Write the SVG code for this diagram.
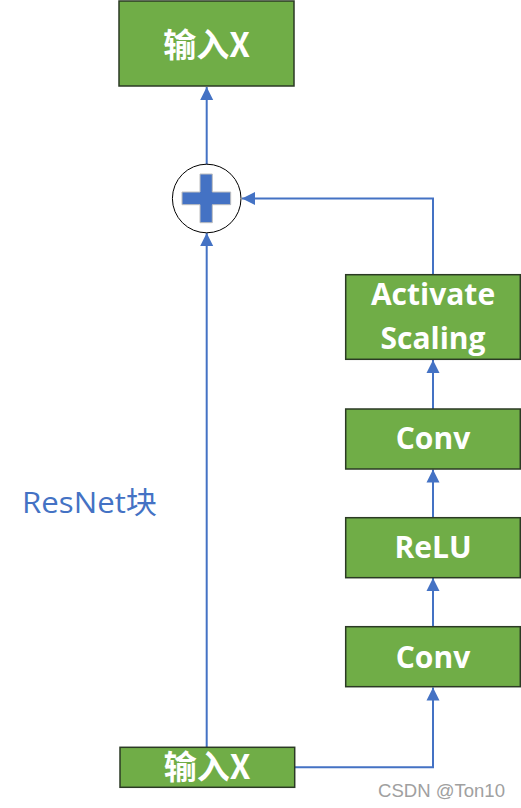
<svg xmlns="http://www.w3.org/2000/svg" width="521" height="808" viewBox="0 0 521 808">
<style>
.box{fill:#70AD47;stroke:#2B3A24;stroke-width:1.5}
.lbl{font-family:"Open Sans","Noto Sans CJK SC",sans-serif;font-weight:bold;font-size:30px;fill:#FFFFFF;text-anchor:middle}
.cjk{font-family:"Noto Sans CJK SC","Open Sans",sans-serif;font-weight:bold;font-size:33px;fill:#FFFFFF;text-anchor:middle}
.con{fill:none;stroke:#4472C4;stroke-width:2}
</style>
<defs>
<marker id="arr" markerUnits="userSpaceOnUse" markerWidth="14" markerHeight="14" viewBox="0 0 14 14" refX="13" refY="7" orient="auto">
<path d="M0,0.5 L13,7 L0,13.5 Z" fill="#4472C4"/>
</marker>
</defs>
<rect width="521" height="808" fill="#FFFFFF"/>
<g id="connectors">
<path class="con" d="M206.7,165 L206.7,87" marker-end="url(#arr)"/>
<path class="con" d="M433,274.5 L433,198.5 L242,198.5" marker-end="url(#arr)"/>
<path class="con" d="M433,409 L433,360" marker-end="url(#arr)"/>
<path class="con" d="M433,517.5 L433,469.5" marker-end="url(#arr)"/>
<path class="con" d="M433,626.5 L433,578" marker-end="url(#arr)"/>
<path class="con" d="M294.7,767.3 L433,767.3 L433,687.5" marker-end="url(#arr)"/>
<path class="con" d="M206.7,747.3 L206.7,233" marker-end="url(#arr)"/>
</g>
<g id="out">
<rect class="box" x="119" y="1" width="175" height="85"/>
<text class="cjk" x="206.5" y="57">输入X</text>
</g>
<g id="add">
<circle cx="206.7" cy="198.5" r="34.3" fill="#FFFFFF" stroke="#000000" stroke-width="1"/>
<path d="M200,174 H212.3 V192 H230.7 V204.7 H212.3 V222.7 H200 V204.7 H182 V192 H200 Z" fill="#4472C4" stroke="#BFBFBF" stroke-width="1"/>
</g>
<g id="scale">
<rect class="box" x="345.7" y="274.7" width="174.6" height="84.6"/>
<text class="lbl" x="433" y="305">Activate</text>
<text class="lbl" x="433" y="349">Scaling</text>
</g>
<g id="conv2">
<rect class="box" x="345.7" y="409" width="174.6" height="60"/>
<text class="lbl" x="433" y="449">Conv</text>
</g>
<g id="relu">
<rect class="box" x="345.7" y="517.7" width="174.6" height="60"/>
<text class="lbl" x="433" y="558">ReLU</text>
</g>
<g id="conv1">
<rect class="box" x="345.7" y="626.7" width="174.6" height="60"/>
<text class="lbl" x="433" y="668">Conv</text>
</g>
<g id="in">
<rect class="box" x="120" y="747.3" width="174.7" height="40"/>
<text class="cjk" x="207" y="779">输入X</text>
</g>
<text x="22" y="512.7" font-family="'Open Sans','Noto Sans CJK SC',sans-serif" font-size="30" fill="#4472C4" textLength="135" lengthAdjust="spacingAndGlyphs">ResNet块</text>
<text x="378" y="797" font-family="'Liberation Sans',sans-serif" font-size="18" fill="#A0A0A0" textLength="127" lengthAdjust="spacingAndGlyphs">CSDN @Ton10</text>
</svg>
